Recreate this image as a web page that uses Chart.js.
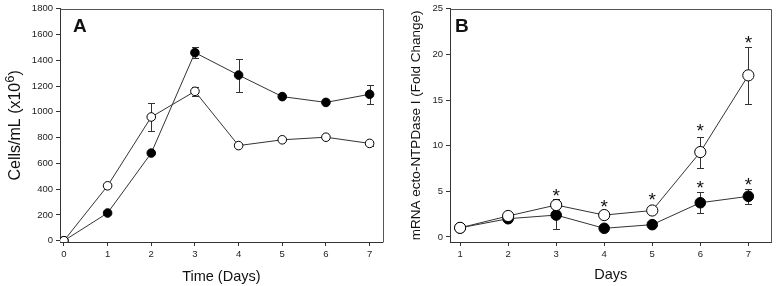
<!DOCTYPE html>
<html>
<head>
<meta charset="utf-8">
<script src="https://cdn.jsdelivr.net/npm/chart.js@4.4.1/dist/chart.umd.min.js"></script>
<style>
  body { margin: 0; background: #fff; }
  .panel { position: absolute; top: 0; height: 286px; }
  #wrapA { left: 0; width: 388px; }
  #wrapB { left: 388px; width: 390px; }
</style>
</head>
<body>
<div class="panel" id="wrapA"><canvas id="chartA" width="388" height="286"></canvas></div>
<div class="panel" id="wrapB"><canvas id="chartB" width="390" height="286"></canvas></div>
<script>
// --- panel A: cell growth ---
const daysA = [0, 1, 2, 3, 4, 5, 6, 7];
const openA = [0, 426, 960, 1159, 738, 783, 803, 755];
const openAErr = [0, 0, 110, 35, 0, 0, 0, 22];
const filledA = [0, 215, 680, 1459, 1285, 1118, 1073, 1136];
const filledAErr = [0, 0, 0, 45, 128, 0, 0, 75];
const xTicksA = [0, 1, 2, 3, 4, 5, 6, 7];
const yTicksA = [0, 200, 400, 600, 800, 1000, 1200, 1400, 1600, 1800];

// --- panel B: mRNA fold change ---
const daysB = [1, 2, 3, 4, 5, 6, 7];
const openB = [1.0, 2.3, 3.5, 2.4, 2.9, 9.3, 17.7];
const openBErr = [0, 0.2, 0.62, 0, 0, 1.7, 3.1];
const filledB = [1.0, 2.0, 2.4, 0.95, 1.35, 3.75, 4.45];
const filledBErr = [0, 0.3, 1.53, 0, 0, 1.13, 0.8];
const starDaysB = [3, 4, 5, 6, 6, 7, 7];
const starValsB = [4.87, 3.7, 4.42, 12.0, 5.7, 21.6, 6.06];
const xTicksB = [1, 2, 3, 4, 5, 6, 7];
const yTicksB = [0, 5, 10, 15, 20, 25];

const FONT = '"Liberation Sans", Arial, sans-serif';
const INK = '#333';

const pts = (xs, ys) => xs.map((x, i) => ({ x, y: ys[i] }));

// error bars go under the markers
const errorBars = {
    id: 'errorBars',
    beforeDatasetsDraw(chart) {
        const { ctx, scales: { x, y } } = chart;
        ctx.save();
        ctx.strokeStyle = INK;
        ctx.lineWidth = 1;
        chart.data.datasets.forEach(ds => {
            if (!ds.errors) return;
            ds.data.forEach((p, i) => {
                const e = ds.errors[i];
                if (!e) return;
                const px = Math.round(x.getPixelForValue(p.x)) + 0.5;
                const top = Math.round(y.getPixelForValue(p.y + e)) + 0.5;
                const bot = Math.round(y.getPixelForValue(p.y - e)) + 0.5;
                ctx.beginPath();
                ctx.moveTo(px, top); ctx.lineTo(px, bot);
                ctx.moveTo(px - 3.5, top); ctx.lineTo(px + 3.5, top);
                ctx.moveTo(px - 3.5, bot); ctx.lineTo(px + 3.5, bot);
                ctx.stroke();
            });
        });
        ctx.restore();
    }
};

// asterisks, panel letter, top/right frame
const decorations = {
    id: 'decorations',
    afterDraw(chart, args, opts) {
        const { ctx, chartArea: a, scales: { x, y } } = chart;
        ctx.save();
        ctx.strokeStyle = '#555';
        ctx.lineWidth = 1;
        ctx.beginPath();
        ctx.moveTo(Math.round(a.left) + 0.5, Math.round(a.top) + 0.5);
        ctx.lineTo(Math.round(a.right) + 0.5, Math.round(a.top) + 0.5);
        ctx.lineTo(Math.round(a.right) + 0.5, Math.round(a.bottom) + 0.5);
        ctx.stroke();

        ctx.fillStyle = '#111';
        ctx.font = 'bold 19px ' + FONT;
        ctx.textBaseline = 'alphabetic';
        ctx.textAlign = 'left';
        ctx.fillText(opts.letter, opts.letterX, 32);

        if (opts.starX) {
            ctx.font = '19px ' + FONT;
            ctx.textAlign = 'center';
            const m = ctx.measureText('*');
            const shift = (m.actualBoundingBoxAscent - m.actualBoundingBoxDescent) / 2;
            opts.starX.forEach((d, i) => {
                ctx.fillText('*', x.getPixelForValue(d), y.getPixelForValue(opts.starY[i]) + shift);
            });
        }

        if (opts.superTitle) {
            // y title with superscript 6
            ctx.translate(16, (a.top + a.bottom) / 2);
            ctx.rotate(-Math.PI / 2);
            ctx.textAlign = 'left';
            ctx.textBaseline = 'middle';
            const main = 'Cells/mL (x10', sup = '6', tail = ')';
            ctx.font = '16px ' + FONT;
            const w1 = ctx.measureText(main).width, w3 = ctx.measureText(tail).width;
            ctx.font = '13px ' + FONT;
            const w2 = ctx.measureText(sup).width;
            let cx = -(w1 + w2 + w3) / 2;
            ctx.font = '16px ' + FONT;
            ctx.fillText(main, cx, 0);
            cx += w1;
            ctx.font = '13px ' + FONT;
            ctx.fillText(sup, cx, -6);
            cx += w2;
            ctx.font = '16px ' + FONT;
            ctx.fillText(tail, cx, 0);
        }
        ctx.restore();
    }
};

function fixedTicks(list) {
    return scale => { scale.ticks = list.map(v => ({ value: v })); };
}

function axis(opts) {
    return {
        type: 'linear',
        min: opts.min,
        max: opts.max,
        afterBuildTicks: fixedTicks(opts.ticks),
        afterFit: scale => {
            if (opts.width) scale.width = opts.width;
            if (opts.height) scale.height = opts.height;
        },
        grid: { drawOnChartArea: false, drawTicks: true, tickLength: 4, color: INK },
        border: { display: true, color: INK },
        ticks: {
            font: { family: FONT, size: 9.5 },
            color: '#222',
            padding: 3,
            callback: v => String(v)
        },
        title: opts.title
    };
}

function series(label, data, errors, filled, radius) {
    return {
        label,
        data,
        errors,
        showLine: true,
        borderColor: INK,
        borderWidth: 1,
        pointRadius: radius,
        pointBorderWidth: 1,
        pointBorderColor: '#000',
        pointBackgroundColor: filled ? '#000' : '#fff'
    };
}

const baseOptions = {
    responsive: false,
    animation: false,
    plugins: { legend: { display: false }, tooltip: { enabled: false } }
};

new Chart(document.getElementById('chartA'), {
    type: 'scatter',
    data: {
        datasets: [
            series('Open', pts(daysA, openA), openAErr, false, 4.3),
            series('Filled', pts(daysA, filledA), filledAErr, true, 4.3)
        ]
    },
    options: {
        ...baseOptions,
        layout: { padding: { top: 8, right: 2, left: 0, bottom: 0 } },
        plugins: {
            ...baseOptions.plugins,
            decorations: { letter: 'A', letterX: 73, superTitle: true }
        },
        scales: {
            x: axis({
                min: -0.09, max: 7.3, ticks: xTicksA, height: 44,
                title: { display: true, text: 'Time (Days)', font: { family: FONT, size: 14.5 }, color: '#111', padding: { bottom: 0.5 } }
            }),
            y: axis({ min: -10, max: 1800, ticks: yTicksA, width: 60 })
        }
    },
    plugins: [errorBars, decorations]
});

new Chart(document.getElementById('chartB'), {
    type: 'scatter',
    data: {
        datasets: [
            series('Open', pts(daysB, openB), openBErr, false, 5.6),
            series('Filled', pts(daysB, filledB), filledBErr, true, 5.3)
        ]
    },
    options: {
        ...baseOptions,
        layout: { padding: { top: 8, right: 3, left: 0, bottom: 0 } },
        plugins: {
            ...baseOptions.plugins,
            decorations: { letter: 'B', letterX: 67, starX: starDaysB, starY: starValsB }
        },
        scales: {
            x: axis({
                min: 0.79, max: 7.48, ticks: xTicksB, height: 44,
                title: { display: true, text: 'Days', font: { family: FONT, size: 14.5 }, color: '#111', padding: { bottom: 2.5 } }
            }),
            y: axis({
                min: -0.55, max: 25, ticks: yTicksB, width: 62,
                title: { display: true, text: 'mRNA ecto-NTPDase I (Fold Change)', font: { family: FONT, size: 13.5 }, color: '#111', padding: { top: 20 } }
            })
        }
    },
    plugins: [errorBars, decorations]
});
</script>
</body>
</html>
